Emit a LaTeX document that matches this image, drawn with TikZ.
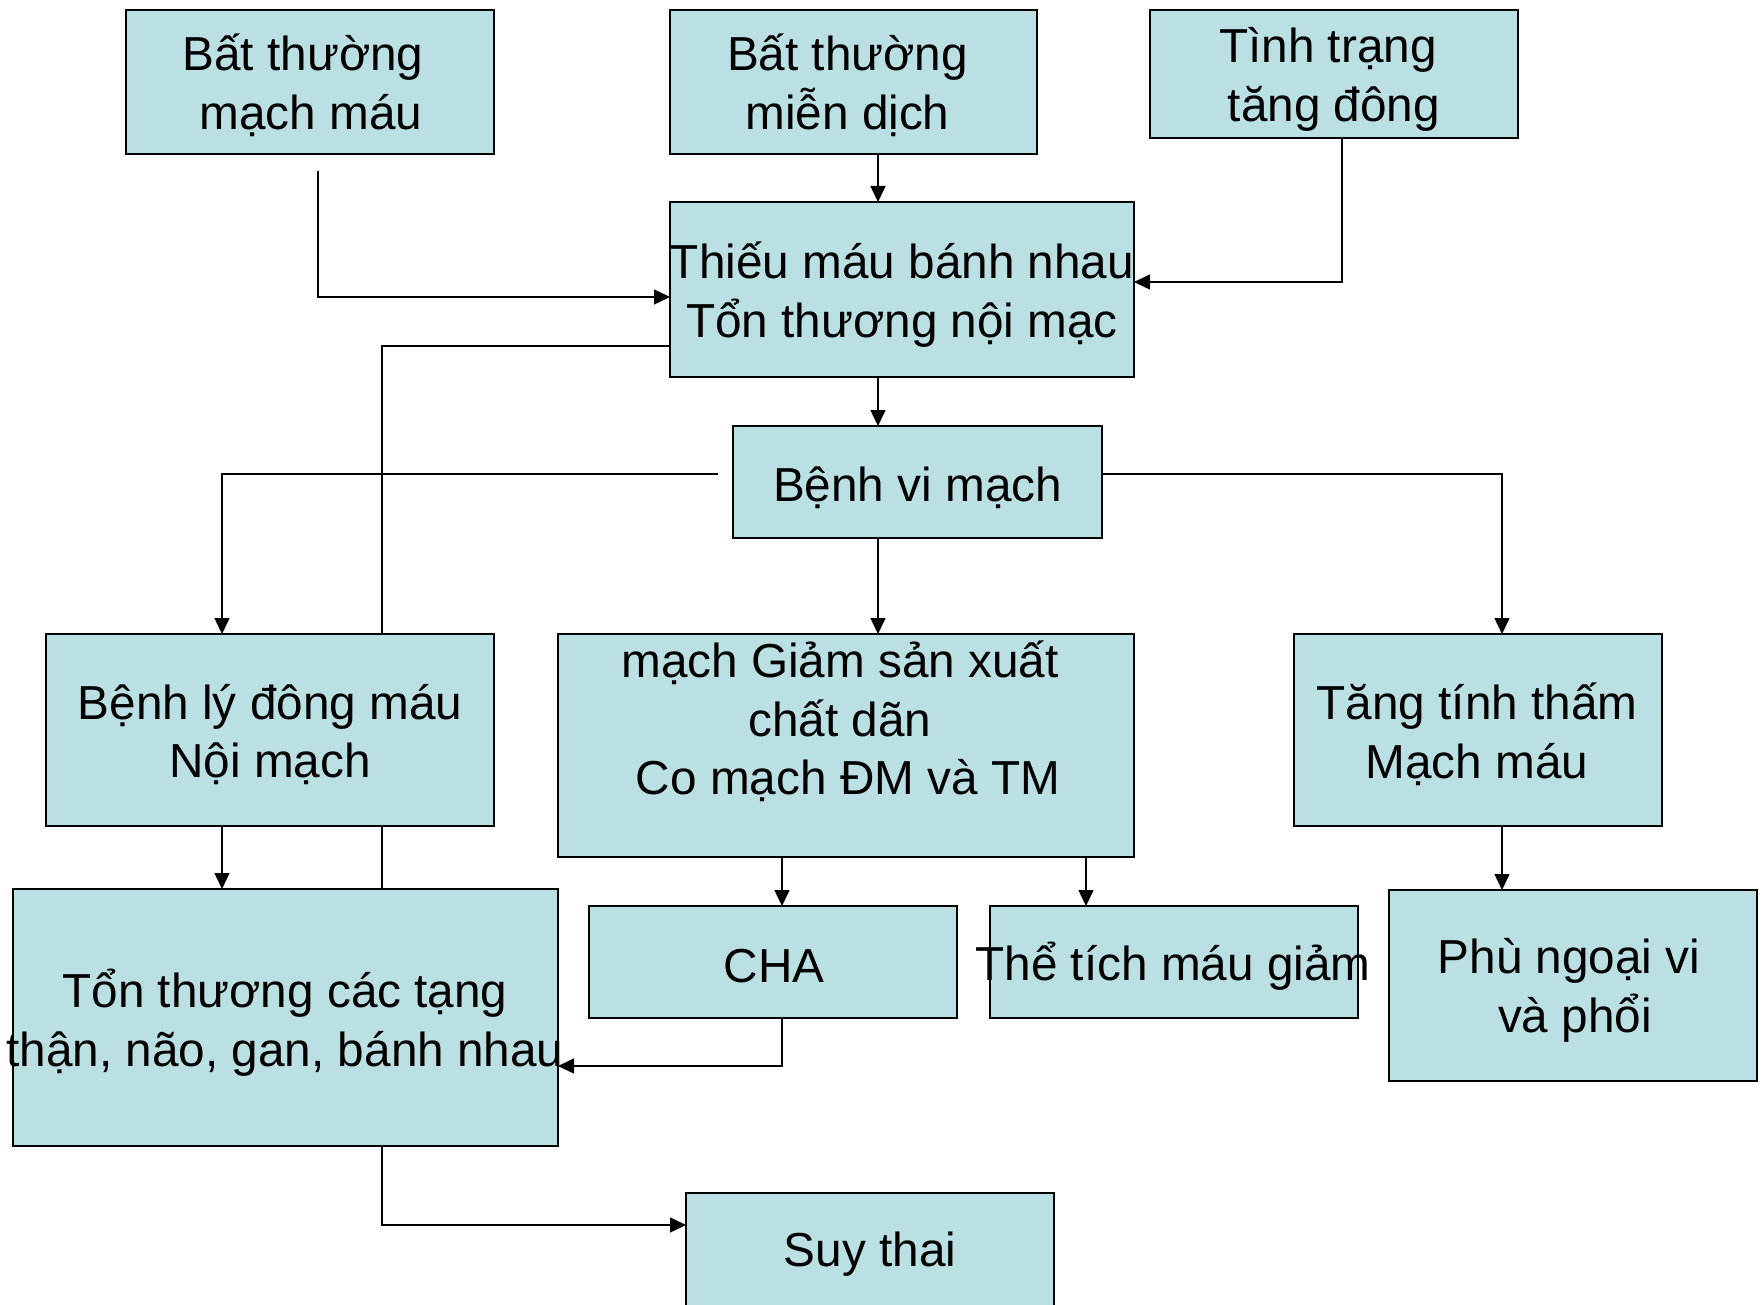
\documentclass[tikz,border=0pt]{standalone}
\usepackage{fontspec}
\setmainfont{Liberation Sans}
\usetikzlibrary{arrows.meta,backgrounds}
\definecolor{boxfill}{RGB}{187,224,227}
\begin{document}
\begin{tikzpicture}[x=1pt,y=-1pt,
  box/.style={draw=black,line width=1.8pt,fill=boxfill,inner sep=0pt,outer sep=0pt},
  txt/.style={align=center,inner sep=0pt,font=\fontsize{47.7}{58.5}\selectfont},
  conn/.style={line width=1.5pt},
  arr/.style={conn,-{Triangle[length=16pt,width=15pt]}}]
\useasboundingbox (0,0) rectangle (1764,1305);
% boxes
\node[box,minimum width=368pt,minimum height=144pt] (b1) at (310,82) {};
\node[box,minimum width=367pt,minimum height=144pt] (b2) at (853.5,82) {};
\node[box,minimum width=368pt,minimum height=128pt] (b3) at (1334,74) {};
\node[box,minimum width=464pt,minimum height=175pt] (b4) at (902,289.5) {};
\node[box,minimum width=369pt,minimum height=112pt] (b5) at (917.5,482) {};
\node[box,minimum width=448pt,minimum height=192pt] (b6) at (270,730) {};
\node[box,minimum width=576pt,minimum height=223pt] (b7) at (846,745.5) {};
\node[box,minimum width=368pt,minimum height=192pt] (b8) at (1478,730) {};
\node[box,minimum width=545pt,minimum height=257pt] (b9) at (285.5,1017.5) {};
\node[box,minimum width=368pt,minimum height=112pt] (b10) at (773,962) {};
\node[box,minimum width=368pt,minimum height=112pt] (b11) at (1174,962) {};
\node[box,minimum width=368pt,minimum height=191pt] (b12) at (1573,985.5) {};
\node[box,minimum width=368pt,minimum height=118pt] (b13) at (870,1252) {};
% texts
\node[txt] (t1) at (303,85.5) {Bất thường\\\hspace*{16pt}mạch máu};
\node[txt] (t2) at (847.5,85.5) {Bất thường\\miễn dịch};
\node[txt] (t3) at (1328,79.5) {Tình trạng\\\hspace*{12pt}tăng đông};
\node[txt] (t4) at (902,294.5) {Thiếu máu bánh nhau\\Tổn thương nội mạc};
\node[txt] (t5) at (917.5,487.5) {Bệnh vi mạch};
\node[txt] (t6) at (270,734.5) {Bệnh lý đông máu\\Nội mạch};
\node[txt] (t7) at (840,721.5) {mạch Giảm sản xuất\\chất dãn\\\hspace*{16pt}Co mạch ĐM và TM};
\node[txt] (t8) at (1477,734.5) {Tăng tính thấm\\Mạch máu};
\node[txt] (t9) at (285,1022.5) {Tổn thương các tạng\\thận, não, gan, bánh nhau};
\node[txt] (t10) at (774,966.5) {CHA};
\node[txt] (t11) at (1173,966.5) {Thể tích máu giảm};
\node[txt] (t12) at (1569,990.5) {Phù ngoại vi\\\hspace*{12pt}và phổi};
\node[txt] (t13) at (870,1254.5) {Suy thai};
% helper coordinates
\coordinate (xa) at (878,0);
\coordinate (xb) at (1342,0);
\coordinate (xd) at (382,0);
\coordinate (xe) at (222,0);
\coordinate (xf) at (1502,0);
\coordinate (xg) at (782,0);
\coordinate (xh) at (1086,0);
\coordinate (y1) at (0,297);
\coordinate (y2) at (0,282);
\coordinate (y3) at (0,346);
\coordinate (y4) at (0,474);
\coordinate (y5) at (0,1066);
\coordinate (y6) at (0,1225);
\coordinate (s1) at (318,171);
\coordinate (s2) at (718,474);
% connectors
\begin{scope}[on background layer]
\draw[arr] (b4.west |- y3) -| (xd |- y6) -- (b13.west |- y6);
\end{scope}
\draw[arr] (b2.south -| xa) -- (b4.north -| xa);
\draw[arr] (b3.south -| xb) |- (b4.east |- y2);
\draw[arr] (s1) |- (b4.west |- y1);
\draw[arr] (b4.south -| xa) -- (b5.north -| xa);
\draw[arr] (s2) -| (b6.north -| xe);
\draw[arr] (b5.east |- y4) -| (b8.north -| xf);
\draw[arr] (b5.south -| xa) -- (b7.north -| xa);
\draw[arr] (b6.south -| xe) -- (b9.north -| xe);
\draw[arr] (b7.south -| xg) -- (b10.north -| xg);
\draw[arr] (b7.south -| xh) -- (b11.north -| xh);
\draw[arr] (b10.south -| xg) |- (b9.east |- y5);
\draw[arr] (b8.south -| xf) -- (b12.north -| xf);
\end{tikzpicture}
\end{document}
